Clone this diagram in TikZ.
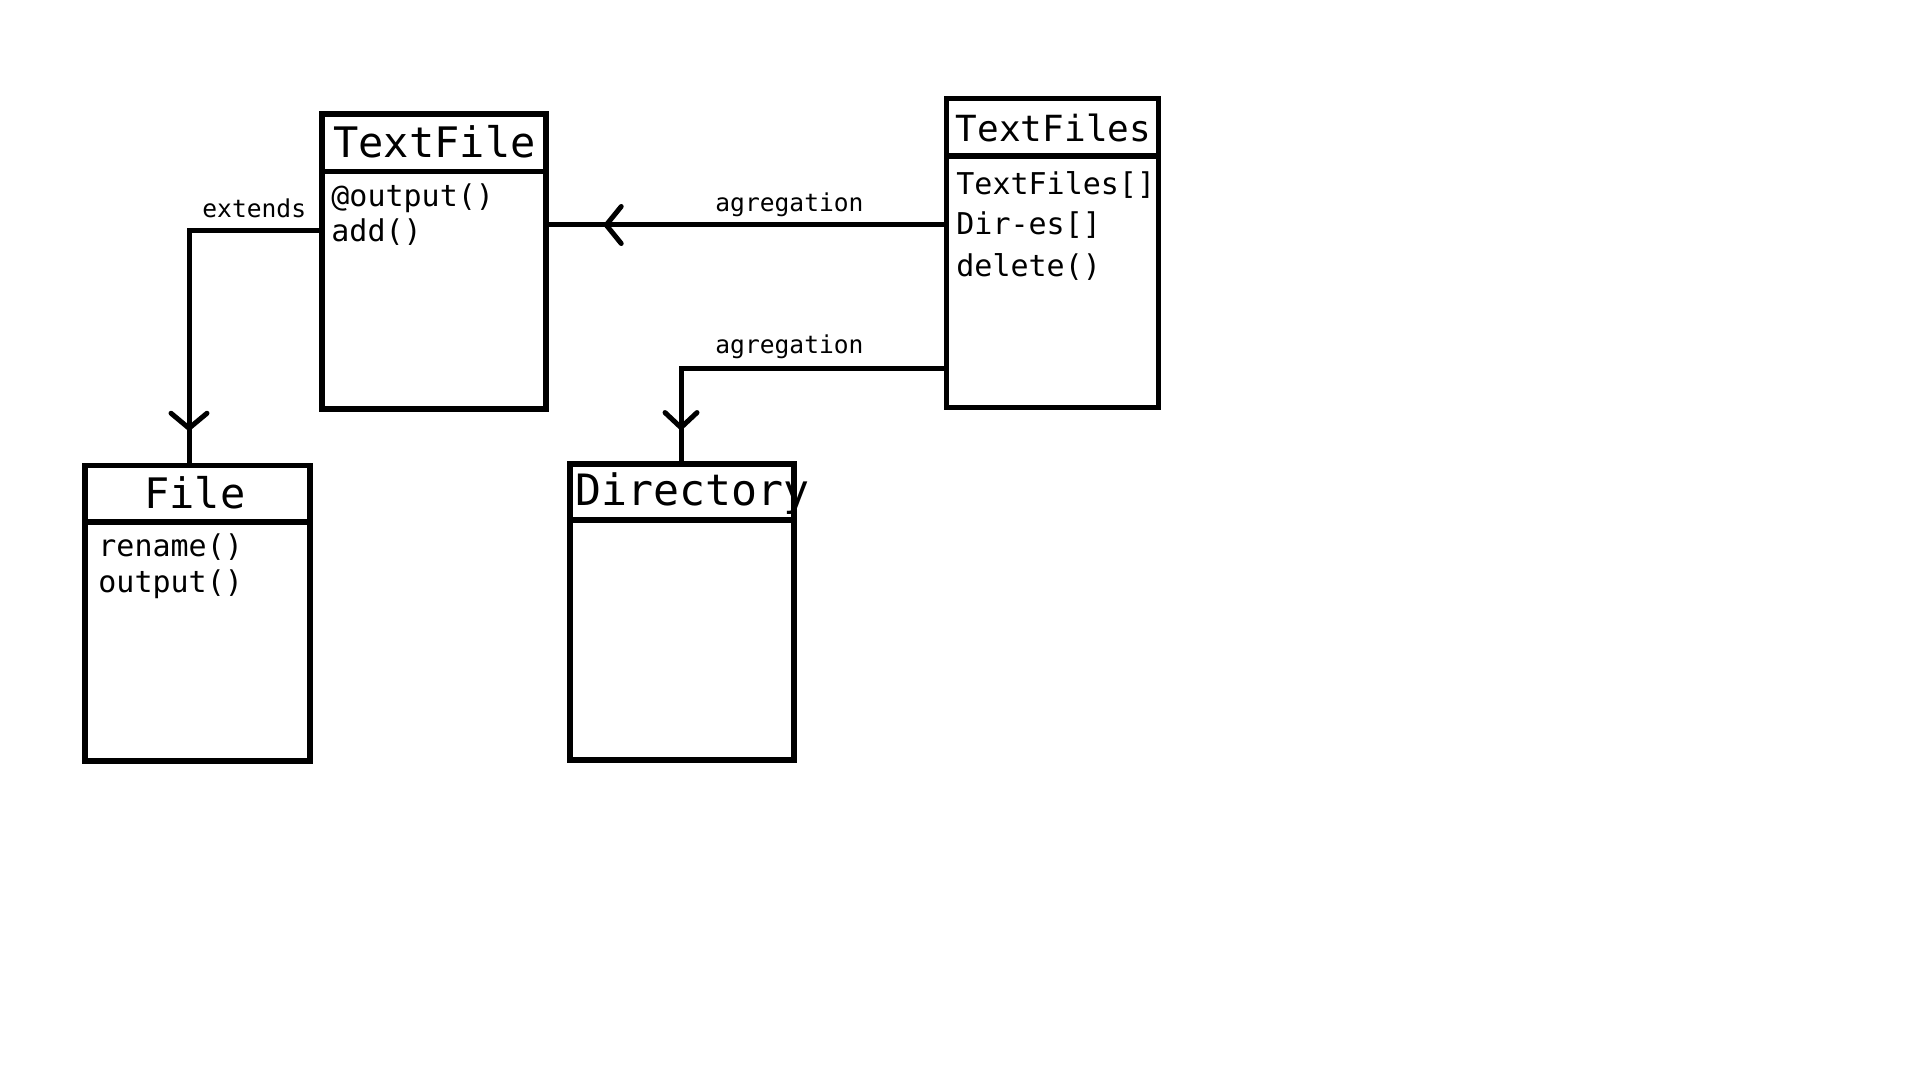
\documentclass[tikz,border=0pt]{standalone}
\usepackage{fontspec}
\usetikzlibrary{arrows.meta,decorations.markings}
\newfontfamily\umlmono{DejaVu Sans Mono}

\tikzset{
  classbox/.style={draw, rectangle, line width=2.7pt, inner sep=0pt, outer sep=0pt},
  divider/.style={line width=2.7pt},
  bigtitle/.style={inner sep=0pt, anchor=base, font=\umlmono\fontsize{21pt}{25pt}\selectfont},
  midtitle/.style={inner sep=0pt, anchor=base, font=\umlmono\fontsize{18pt}{22pt}\selectfont},
  member/.style={inner sep=0pt, anchor=base west, font=\umlmono\fontsize{15pt}{18pt}\selectfont},
  rellabel/.style={inner sep=0pt, anchor=base west, font=\umlmono\fontsize{12.3pt}{15pt}\selectfont},
  conn/.style={line width=2.5pt, line join=miter},
  tipat/.style 2 args={postaction={decorate, decoration={markings,
      mark=at position #1 with {\arrow{Straight Barb[length=7.5pt,width=#2,line cap=round]}}}}}
}

\begin{document}
\begin{tikzpicture}[x=0.5pt, y=-0.5pt]
  \useasboundingbox[fill=white] (0,0) rectangle (1920,1080);

  % class boxes
  \node[classbox, minimum width=112pt, minimum height=147.5pt] (tf) at (434,261.5) {};
  \node[classbox, minimum width=106pt, minimum height=154.3pt] (tfs) at (1052.7,253) {};
  \node[classbox, minimum width=112.5pt, minimum height=147.75pt] (file) at (197.5,613.25) {};
  \node[classbox, minimum width=112pt, minimum height=148pt] (dir) at (682,612) {};

  % header separators
  \draw[divider] ([yshift=-28.65pt]tf.north west) -- ([yshift=-28.65pt]tf.north east);
  \draw[divider] ([yshift=-28.65pt]tfs.north west) -- ([yshift=-28.65pt]tfs.north east);
  \draw[divider] ([yshift=-28.25pt]file.north west) -- ([yshift=-28.25pt]file.north east);
  \draw[divider] ([yshift=-28pt]dir.north west) -- ([yshift=-28pt]dir.north east);

  % class names
  \node[bigtitle] (tfname) at (434.5,158) {TextFile};
  \node[midtitle] (tfsname) at (1053.5,142) {TextFiles};
  \node[bigtitle] (filename) at (195,508) {File};
  \node[bigtitle, anchor=base west, font=\umlmono\fontsize{21.6pt}{25pt}\selectfont] (dirname) at (575,505) {Directory};

  % members
  \node[member] (tfm1) at (331,207) {@output()};
  \node[member] (tfm2) at (331,242) {add()};
  \node[member] (tfsm1) at (956,195) {TextFiles[]};
  \node[member] (tfsm2) at (956,235) {Dir-es[]};
  \node[member] (tfsm3) at (956,277) {delete()};
  \node[member] (filem1) at (98,556) {rename()};
  \node[member] (filem2) at (98,592) {output()};

  % relations
  \coordinate (extbend) at (189,231);
  \coordinate (agg1) at (0,225);
  \coordinate (aggbend) at (681,368);

  \draw[conn, tipat={-17pt}{18pt}] (extbend -| tf.west) -- (extbend) -- (extbend |- file.north);
  \draw[conn, tipat={-28.5pt}{18.5pt}] (agg1 -| tfs.west) -- (agg1 -| tf.east);
  \draw[conn, tipat={-16.5pt}{16pt}] (aggbend -| tfs.west) -- (aggbend) -- (aggbend |- dir.north);

  % relation labels
  \node[rellabel] (extlabel) at (202,218) {extends};
  \node[rellabel] (agglabel1) at (715,212) {agregation};
  \node[rellabel] (agglabel2) at (715,354) {agregation};
\end{tikzpicture}
\end{document}
